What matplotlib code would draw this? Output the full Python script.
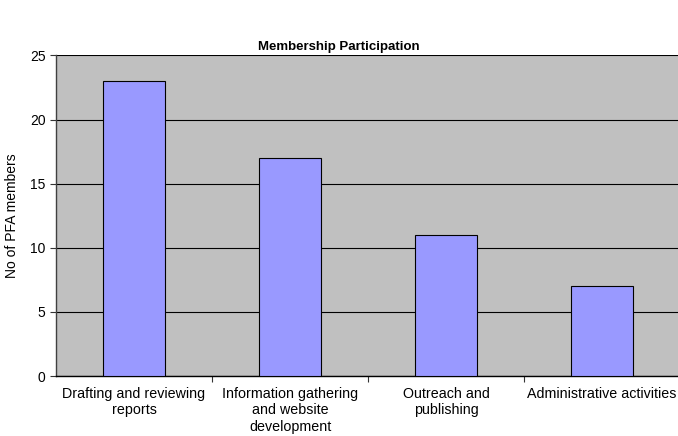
import matplotlib
matplotlib.use("Agg")
import matplotlib.pyplot as plt

categories = ["Drafting and reviewing\nreports",
              "Information gathering\nand website\ndevelopment",
              "Outreach and\npublishing",
              "Administrative activities"]
values = [23, 17, 11, 7]
yticks = [0, 5, 10, 15, 20, 25]

plt.rcParams['font.family'] = ['Liberation Sans', 'DejaVu Sans']

W, H = 678, 436
fig = plt.figure(figsize=(W/100, H/100), dpi=100)
left, right, top, bottom = 56, 680, 55.5, 376
ax = fig.add_axes([left/W, 1-bottom/H, (right-left)/W, (bottom-top)/H])
ax.set_facecolor('#C0C0C0')

x = list(range(len(categories)))
ax.bar(x, values, width=0.4, color='#9999FF', edgecolor='black', linewidth=0.8, zorder=3)
ax.set_xlim(-0.5, len(categories)-0.5)
ax.set_ylim(0, 25)
ax.set_yticks(yticks)
ax.yaxis.grid(True, color='black', linewidth=0.8, zorder=1)
ax.set_axisbelow(True)

ax.set_xticks([i+0.5 for i in x[:-1]])
ax.set_xticklabels([])
ax.set_xticks(x, minor=True)
ax.set_xticklabels(categories, minor=True, fontsize=10.3, linespacing=1.2)
ax.tick_params(axis='x', which='minor', length=0, pad=8)
ax.tick_params(axis='x', which='major', length=4, width=0.8, direction='out', color='#333333')
ax.tick_params(axis='y', length=4, width=0.8, direction='out', labelsize=10, color='#333333')

for s in ['top', 'right']:
    ax.spines[s].set_visible(False)
ax.spines['left'].set_color('#404040')
ax.spines['bottom'].set_color('black')
ax.spines['left'].set_linewidth(1.0)
ax.spines['bottom'].set_linewidth(1.0)

ax.set_ylabel("No of PFA members", fontsize=10, labelpad=8)
fig.text(0.5, 1-47/H, "Membership Participation", ha='center', va='center',
         fontsize=9.5, fontweight='bold')

fig.savefig("out.png", dpi=100)
